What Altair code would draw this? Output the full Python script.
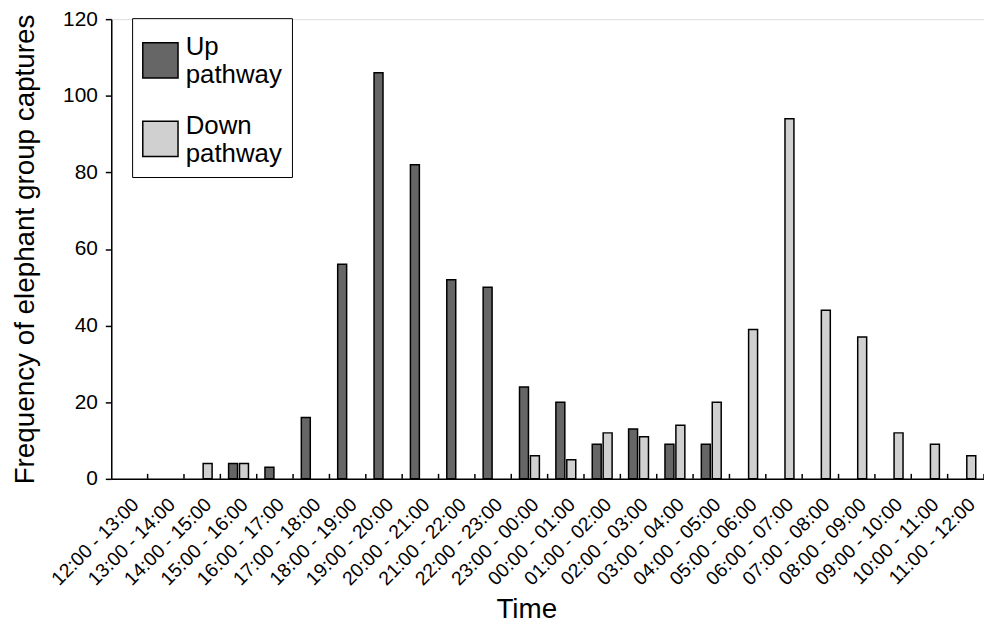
import altair as alt
import pandas as pd

categories = ["12:00 - 13:00", "13:00 - 14:00", "14:00 - 15:00", "15:00 - 16:00",
              "16:00 - 17:00", "17:00 - 18:00", "18:00 - 19:00", "19:00 - 20:00",
              "20:00 - 21:00", "21:00 - 22:00", "22:00 - 23:00", "23:00 - 00:00",
              "00:00 - 01:00", "01:00 - 02:00", "02:00 - 03:00", "03:00 - 04:00",
              "04:00 - 05:00", "05:00 - 06:00", "06:00 - 07:00", "07:00 - 08:00",
              "08:00 - 09:00", "09:00 - 10:00", "10:00 - 11:00", "11:00 - 12:00"]
up_values = [0, 0, 0, 4, 3, 16, 56, 106, 82, 52, 50, 24, 20, 9, 13, 9, 9, 0, 0, 0, 0, 0, 0, 0]
down_values = [0, 0, 4, 4, 0, 0, 0, 0, 0, 0, 0, 6, 5, 12, 11, 14, 20, 39, 94, 44, 37, 12, 9, 6]
series = ["Up pathway", "Down pathway"]
colors = ["#666666", "#d0d0d0"]
y_ticks = [0, 20, 40, 60, 80, 100, 120]

rows = []
for c, u, d in zip(categories, up_values, down_values):
    rows.append({"time": c, "series": series[0], "value": u})
    rows.append({"time": c, "series": series[1], "value": d})
df = pd.DataFrame(rows)
cat_df = pd.DataFrame({"time": categories})

FONT = "Liberation Sans"
W, H = 879, 463

x_scale = alt.Scale(domain=categories, paddingInner=0, paddingOuter=0)

bars = alt.Chart(df).transform_filter("datum.value > 0").mark_bar(
    stroke="black", strokeWidth=1.5
).encode(
    x=alt.X("time:N", scale=x_scale, sort=categories,
            axis=alt.Axis(title="Time", labelAngle=-45, ticks=False, labelPadding=16,
                          labelFontSize=19.5, labelColor="black", labelFont=FONT,
                          domainColor="black", domainWidth=1.5,
                          titleFontSize=28, titleFont=FONT, titleFontWeight="normal",
                          titleColor="black", titleX=418, titleY=140,
                          titleAlign="center", titleBaseline="alphabetic")),
    xOffset=alt.XOffset("series:N", sort=series,
                        scale=alt.Scale(domain=series, paddingInner=0.18, paddingOuter=0.755)),
    y=alt.Y("value:Q", scale=alt.Scale(domain=[0, 120], nice=False),
            axis=alt.Axis(title="Frequency of elephant group captures", values=y_ticks,
                          grid=False, tickSize=6, tickColor="black", tickWidth=1.5,
                          labelPadding=8, labelFontSize=21, labelColor="black", labelFont=FONT,
                          domainColor="black", domainWidth=1.5,
                          titleFontSize=28, titleFont=FONT, titleFontWeight="normal",
                          titleColor="black", titleX=-86, titleY=H / 2, titleAngle=-90,
                          titleAlign="center", titleBaseline="middle")),
    color=alt.Color("series:N", sort=series,
                    scale=alt.Scale(domain=series, range=colors),
                    legend=alt.Legend(title=" ", titleFontSize=2, titlePadding=12,
                                      orient="none", legendX=21, legendY=-1,
                                      symbolType="square", symbolSize=1260,
                                      symbolStrokeColor="black", symbolStrokeWidth=1.5,
                                      symbolOpacity=1,
                                      labelExpr="split(datum.label, ' ')",
                                      labelBaseline="bottom",
                                      labelFontSize=26, labelFont=FONT, labelColor="black",
                                      labelOffset=7, labelLimit=300,
                                      rowPadding=24, padding=10,
                                      strokeColor="black", fillColor="white")),
)

ticks = alt.Chart(cat_df).mark_rule(color="black", strokeWidth=1.5).encode(
    x=alt.X("time:N", scale=x_scale, sort=categories, bandPosition=1),
    y=alt.value(H),
    y2=alt.value(H - 5),
)

chart = alt.layer(bars, ticks).properties(
    width=W, height=H,
    autosize=alt.AutoSizeParams(type="none"),
    padding={"left": 104, "top": 9, "right": 0, "bottom": 148},
).configure_view(stroke=None).configure(background="white", font=FONT)

chart.save("out.html", embed_options={"renderer": "svg", "actions": False})
